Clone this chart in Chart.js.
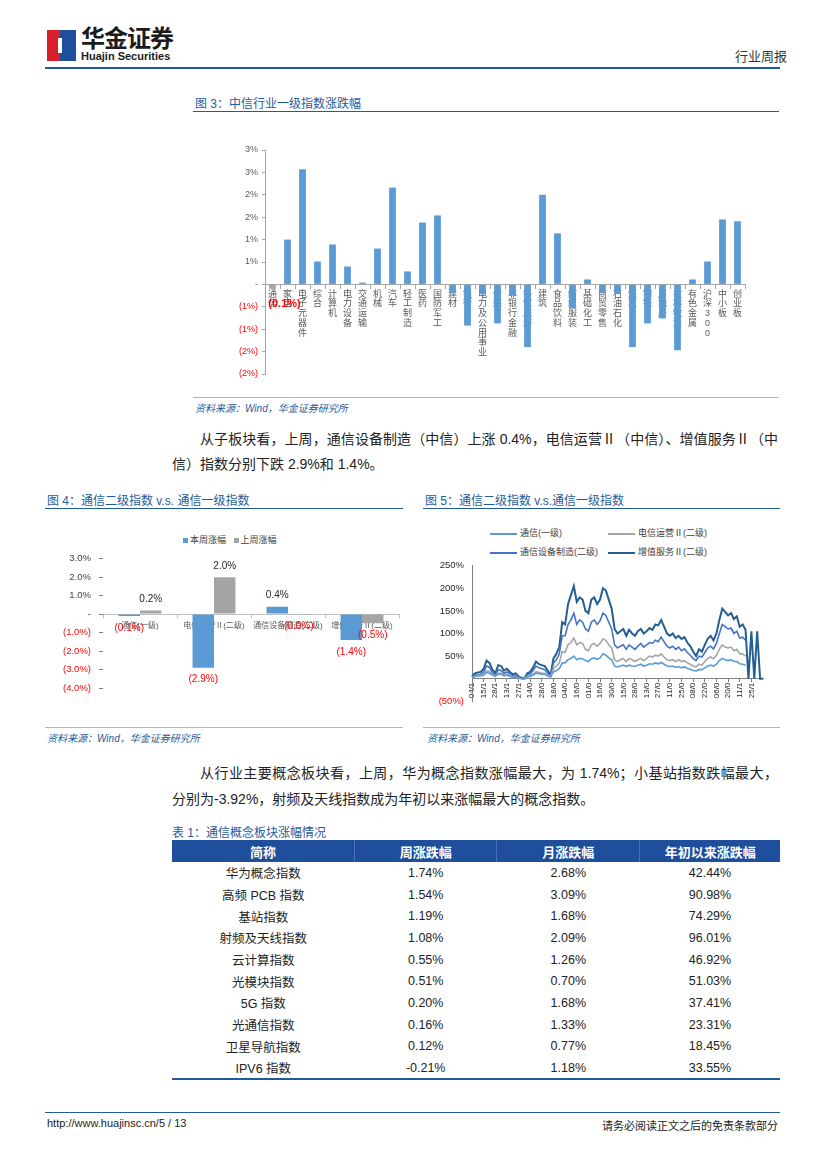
<!DOCTYPE html>
<html>
<head>
<meta charset="utf-8">
<script src="https://cdn.jsdelivr.net/npm/chart.js@4.4.1/dist/chart.umd.min.js"></script>
<style>
  body { margin: 0; background: #fff; }
  #page { position: relative; width: 827px; height: 1169px; overflow: hidden;
    font-family: "Liberation Sans", "Noto Sans CJK SC", sans-serif; color: #222; }
  .abs { position: absolute; white-space: nowrap; }
  .title { font-size: 12px; color: #1f5c99; }
  .source { font-size: 10px; color: #1f5c99; font-style: italic; }
  .hline { position: absolute; height: 0; }
  .para { position: absolute; font-size: 14px; color: #222; white-space: nowrap; }
  .just { text-align: justify; text-align-last: justify; }
  canvas { position: absolute; }
  .legend { position: absolute; font-size: 9px; color: #404040; white-space: nowrap; }
  table { border-collapse: collapse; }
</style>
</head>
<body>
<div id="page">
  <!-- header / logo -->
  <div class="abs" style="left:47px;top:30px;width:13px;height:31px;background:#d7202b;"></div>
  <div class="abs" style="left:60px;top:30px;width:16px;height:31px;background:#1f4e9c;"></div>
  <div class="abs" style="left:58px;top:38px;width:4px;height:15px;background:#fff;"></div>
  <div class="abs" style="left:81px;top:27px;font-size:24px;line-height:24px;font-weight:bold;color:#1b1b1b;letter-spacing:-1px;">华金证券</div>
  <div class="abs" style="left:81px;top:51px;font-size:11px;line-height:11px;font-weight:bold;color:#1b1b1b;">Huajin Securities</div>
  <div class="abs" style="left:735px;top:49px;font-size:13px;line-height:15px;color:#333;">行业周报</div>
  <div class="hline" style="left:45px;top:67px;width:735px;border-top:2px solid #1f5c99;"></div>

  <!-- figure 3 -->
  <div class="abs title" style="left:195px;top:94px;">图 3：中信行业一级指数涨跌幅</div>
  <div class="hline" style="left:193px;top:111px;width:586px;border-top:1.5px solid #1f5c99;"></div>
  <canvas id="fig3" width="580" height="245" style="left:195px;top:140px;"></canvas>
  <div class="hline" style="left:193px;top:397px;width:586px;border-top:1px solid #9dbbe0;"></div>
  <div class="abs source" style="left:195px;top:400px;">资料来源：Wind，华金证券研究所</div>

  <div class="para just" style="left:200px;top:428px;width:578px;">从子板块看，上周，通信设备制造（中信）上涨 0.4%，电信运营Ⅱ（中信）、增值服务Ⅱ（中</div>
  <div class="para" style="left:172px;top:453px;">信）指数分别下跌 2.9%和 1.4%。</div>

  <!-- figure 4 -->
  <div class="abs title" style="left:47px;top:491px;">图 4：通信二级指数 v.s. 通信一级指数</div>
  <div class="hline" style="left:45px;top:508px;width:358px;border-top:1.5px solid #1f5c99;"></div>
  <div class="legend" style="left:183px;top:533px;">
    <span style="display:inline-block;width:5px;height:5px;background:#5b9bd5;margin-right:2px;"></span>本周涨幅
    <span style="display:inline-block;width:5px;height:5px;background:#a5a5a5;margin:0 2px 0 5px;"></span>上周涨幅
  </div>
  <canvas id="fig4" width="356" height="160" style="left:47px;top:545px;"></canvas>
  <div class="hline" style="left:45px;top:727px;width:358px;border-top:1px solid #9dbbe0;"></div>
  <div class="abs source" style="left:47px;top:730px;">资料来源：Wind，华金证券研究所</div>

  <!-- figure 5 -->
  <div class="abs title" style="left:425px;top:491px;">图 5：通信二级指数 v.s.通信一级指数</div>
  <div class="hline" style="left:423px;top:508px;width:357px;border-top:1.5px solid #1f5c99;"></div>
  <div id="fig5legend"></div>
  <canvas id="fig5" width="350" height="163" style="left:425px;top:552px;"></canvas>
  <div class="hline" style="left:423px;top:727px;width:357px;border-top:1px solid #9dbbe0;"></div>
  <div class="abs source" style="left:427px;top:730px;">资料来源：Wind，华金证券研究所</div>

  <div class="para just" style="left:200px;top:762px;width:578px;">从行业主要概念板块看，上周，华为概念指数涨幅最大，为 1.74%；小基站指数跌幅最大，</div>
  <div class="para" style="left:172px;top:788px;">分别为-3.92%，射频及天线指数成为年初以来涨幅最大的概念指数。</div>

  <!-- table 1 -->
  <div class="abs title" style="left:172px;top:823px;">表 1：通信概念板块涨幅情况</div>
  <table id="tbl" class="abs" style="left:172px;top:840px;width:608px;"></table>

  <!-- footer -->
  <div class="hline" style="left:45px;top:1112px;width:735px;border-top:1.5px solid #1f5c99;"></div>
  <div class="abs" style="left:47px;top:1117px;font-size:11px;color:#222;">http://www.huajinsc.cn/5 / 13</div>
  <div class="abs" style="right:49px;top:1117px;font-size:11px;color:#222;">请务必阅读正文之后的免责条款部分</div>
</div>

<script>
// ---- data: figure 3 (CITIC level-1 industries, weekly change %) ----
const fig3Labels = ['通信', '家电', '电子元器件', '综合', '计算机', '电力设备', '交通运输', '机械',
  '汽车', '轻工制造', '医药', '国防军工', '建材', '银行', '电力及公用事业', '传媒', '非银行金融',
  '餐饮旅游', '建筑', '食品饮料', '纺织服装', '基础化工', '商贸零售', '石油石化', '煤炭', '钢铁',
  '房地产', '农林牧渔', '有色金属', '沪深300', '中小板', '创业板'];
const fig3Values = [-0.1, 1.0, 2.57, 0.51, 0.89, 0.40, 0.04, 0.80, 2.16, 0.29, 1.38, 1.54,
  -0.20, -0.92, -0.22, -0.87, -0.25, -1.40, 2.00, 1.14, -0.53, 0.11, -0.18, -0.20,
  -1.40, -0.87, -0.76, -1.47, 0.11, 0.51, 1.45, 1.41];
const fig3Highlight = '通信';

// ---- data: figure 4 ----
const fig4Categories = ['通信(一级)', '电信运营Ⅱ(二级)', '通信设备制造(二级)', '增值服务Ⅱ(二级)'];
const fig4ThisWeek = [-0.1, -2.9, 0.4, -1.4];
const fig4LastWeek = [0.2, 2.0, -0.03, -0.5];

// ---- data: figure 5 (cumulative change %, sampled) ----
const fig5TickLabels = ['04/1', '15/1', '28/1', '13/1', '27/1', '14/0', '28/0', '18/0', '04/0',
  '16/0', '01/0', '16/0', '30/0', '15/0', '28/0', '13/0', '27/0', '11/0', '25/0', '08/0', '22/0',
  '06/0', '20/0', '11/1', '25/1'];
const fig5Tongxin = [2, 5, 6, 6, 8, 14, 12, 8, 5, 10, 10, 6, 8, 5, 3, 4, 2, 0, 0, 4,
  5, 8, 12, 11, 10, 10, 6, 4, 15, 18, 22, 35, 35, 42, 45, 50, 42, 45, 44, 40,
  38, 44, 46, 43, 46, 55, 52, 46, 42, 28, 26, 28, 30, 27, 30, 28, 27, 30, 32, 28,
  30, 33, 32, 35, 33, 36, 32, 28, 27, 28, 25, 27, 24, 26, 23, 21, 18, 17, 20, 20,
  24, 28, 30, 28, 32, 40, 45, 42, 40, 42, 38, 38, 33, 32, 30];
const fig5Dianxin = [3, 6, 8, 8, 10, 18, 16, 10, 6, 12, 12, 8, 10, 7, 4, 5, 2, 0, 0, 5,
  6, 10, 15, 14, 12, 12, 8, 5, 22, 28, 35, 60, 58, 75, 80, 90, 75, 80, 78, 65,
  62, 75, 78, 72, 78, 88, 85, 75, 68, 42, 38, 42, 45, 38, 45, 42, 38, 42, 45, 40,
  45, 50, 48, 52, 50, 55, 48, 42, 40, 42, 38, 42, 38, 40, 35, 32, 28, 26, 32, 30,
  38, 45, 48, 44, 52, 65, 75, 70, 68, 70, 62, 65, 55, 55, 50];
const fig5Shebei = [3, 8, 10, 10, 15, 28, 25, 14, 8, 20, 18, 12, 15, 10, 6, 8, 3, 1, 0, 8,
  10, 18, 28, 24, 22, 20, 12, 6, 35, 42, 55, 95, 95, 120, 130, 145, 120, 130, 125, 110,
  105, 125, 130, 120, 128, 145, 140, 125, 110, 75, 68, 72, 75, 65, 75, 70, 65, 72, 78, 70,
  75, 80, 78, 85, 82, 92, 82, 72, 68, 72, 65, 70, 62, 66, 58, 52, 45, 40, 50, 48,
  58, 68, 72, 66, 78, 100, 120, 115, 110, 112, 100, 105, 90, 92, 85];
const fig5Zengzhi = [5, 12, 14, 15, 22, 40, 35, 20, 12, 30, 28, 18, 22, 15, 10, 12, 5, 2, 0, 12,
  15, 25, 38, 32, 30, 28, 18, 8, 45, 55, 70, 125, 120, 165, 185, 205, 170, 180, 175, 150,
  145, 175, 180, 165, 175, 200, 195, 175, 155, 110, 100, 105, 110, 95, 108, 100, 95, 105, 110, 100,
  105, 112, 108, 120, 118, 130, 115, 100, 95, 100, 90, 95, 88, 92, 80, 72, 60, 50, 65, 60,
  75, 88, 95, 85, 100, 130, 155, 148, 140, 145, 132, 138, 115, 120, 108, 0, 105, 0, 105, 0, 0];
const fig5Names = ['通信(一级)', '电信运营Ⅱ(二级)', '通信设备制造(二级)', '增值服务Ⅱ(二级)'];
const fig5Colors = ['#5b9bd5', '#a5a5a5', '#4472c4', '#255e91'];

// ---- data: table 1 ----
const tblHead = ['简称', '周涨跌幅', '月涨跌幅', '年初以来涨跌幅'];
const tblNames = ['华为概念指数', '高频 PCB 指数', '基站指数', '射频及天线指数', '云计算指数',
  '光模块指数', '5G 指数', '光通信指数', '卫星导航指数', 'IPV6 指数'];
const tblWeek = ['1.74%', '1.54%', '1.19%', '1.08%', '0.55%', '0.51%', '0.20%', '0.16%', '0.12%', '-0.21%'];
const tblMonth = ['2.68%', '3.09%', '1.68%', '2.09%', '1.26%', '0.70%', '1.68%', '1.33%', '0.77%', '1.18%'];
const tblYtd = ['42.44%', '90.98%', '74.29%', '96.01%', '46.92%', '51.03%', '37.41%', '23.31%', '18.45%', '33.55%'];

const RED = '#ff0000';
const TXT = '#595959';
Chart.defaults.font.family = '"Liberation Sans", "Noto Sans CJK SC", sans-serif';
Chart.defaults.animation = false;
Chart.defaults.responsive = false;
Chart.defaults.devicePixelRatio = 1;
Chart.defaults.plugins.legend.display = false;
Chart.defaults.plugins.tooltip.enabled = false;

// accounting style percent, like the excel charts
function pctLabel(v, digits) {
  if (v === 0) return '-';
  const s = Math.abs(v).toFixed(digits) + '%';
  return v < 0 ? '(' + s + ')' : s;
}

// ---------- figure 3 ----------
new Chart(document.getElementById('fig3'), {
  type: 'bar',
  data: {
    // stack the characters vertically like the original
    labels: fig3Labels.map((l) => l.split('')),
    datasets: [{
      data: fig3Values,
      backgroundColor: fig3Labels.map((l) => (l === fig3Highlight ? '#a5a5a5' : '#5b9bd5')),
      barPercentage: 0.9,
      categoryPercentage: 0.5,
    }],
  },
  options: {
    layout: { padding: { top: 10, right: 30, bottom: 11, left: 0 } },
    scales: {
      x: {
        position: { y: 0 },
        z: 1,
        grid: { drawOnChartArea: false, tickLength: 4, color: '#a6a6a6' },
        border: { color: '#a6a6a6' },
        ticks: { autoSkip: false, maxRotation: 0, padding: 1, color: TXT,
          font: { size: 9, lineHeight: 1.08 } },
      },
      y: {
        min: -2, max: 3,
        afterFit: (s) => { s.width = 70; },
        grid: { drawOnChartArea: false, tickLength: 3, color: '#a6a6a6' },
        border: { color: '#a6a6a6' },
        ticks: {
          stepSize: 0.5, padding: 4, font: { size: 9 },
          color: (c) => (c.tick && c.tick.value < 0 ? RED : TXT),
          callback: (v) => pctLabel(Math.round(Math.abs(v) + 1e-9) * Math.sign(v), 0),
        },
      },
    },
  },
  plugins: [{
    id: 'fig3labels',
    afterDatasetsDraw(chart) {
      const ctx = chart.ctx;
      const meta = chart.getDatasetMeta(0);
      const i = fig3Labels.indexOf(fig3Highlight);
      const el = meta.data[i];
      ctx.save();
      ctx.font = 'bold 11px "Liberation Sans"';
      ctx.fillStyle = RED;
      ctx.textAlign = 'center';
      ctx.textBaseline = 'middle';
      ctx.fillText(pctLabel(fig3Values[i], 1), el.x + 12, el.y + 15);
      ctx.restore();
    },
  }],
});

// ---------- figure 4 ----------
new Chart(document.getElementById('fig4'), {
  type: 'bar',
  data: {
    labels: fig4Categories,
    datasets: [
      { label: '本周涨幅', data: fig4ThisWeek, backgroundColor: '#5b9bd5', categoryPercentage: 0.58, barPercentage: 1 },
      { label: '上周涨幅', data: fig4LastWeek, backgroundColor: '#a5a5a5', categoryPercentage: 0.58, barPercentage: 1 },
    ],
  },
  options: {
    layout: { padding: { top: 10, right: 4, bottom: 17, left: 0 } },
    scales: {
      x: {
        position: { y: 0 },
        z: 1,
        grid: { drawOnChartArea: false, tickLength: 3, color: '#bfbfbf' },
        border: { color: '#bfbfbf' },
        ticks: { autoSkip: false, maxRotation: 0, padding: 4, color: TXT, font: { size: 8 } },
      },
      y: {
        min: -4, max: 3,
        afterFit: (s) => { s.width = 56; },
        grid: { drawOnChartArea: false, tickLength: 4, color: '#7f7f7f' },
        border: { display: false },
        ticks: {
          stepSize: 1, padding: 8, font: { size: 9.5 },
          color: (c) => (c.tick && c.tick.value < 0 ? RED : '#404040'),
          callback: (v) => pctLabel(v, 1),
        },
      },
    },
  },
  plugins: [{
    id: 'fig4labels',
    afterDatasetsDraw(chart) {
      const ctx = chart.ctx;
      ctx.save();
      ctx.font = '10px "Liberation Sans"';
      ctx.textAlign = 'center';
      ctx.textBaseline = 'middle';
      chart.data.datasets.forEach((ds, d) => {
        chart.getDatasetMeta(d).data.forEach((el, i) => {
          const v = ds.data[i];
          ctx.fillStyle = v < 0 ? RED : '#262626';
          ctx.fillText(pctLabel(v, 1), el.x, v < 0 ? el.y + 12 : el.y - 11);
        });
      });
      ctx.restore();
    },
  }],
});

// ---------- figure 5 ----------
const fig5Labels = fig5Zengzhi.map((_, i) => (i % 4 === 0 ? (fig5TickLabels[i / 4] || '') : ''));
const fig5Series = [fig5Tongxin, fig5Dianxin, fig5Shebei, fig5Zengzhi];

new Chart(document.getElementById('fig5'), {
  type: 'line',
  data: {
    labels: fig5Labels,
    datasets: fig5Series.map((s, k) => ({
      label: fig5Names[k],
      data: s,
      borderColor: fig5Colors[k],
      borderWidth: k === 3 ? 2 : 1.6,
      pointRadius: 0,
      tension: 0,
    })),
  },
  options: {
    layout: { padding: { top: 10, right: 12, bottom: 9, left: 0 } },
    scales: {
      x: {
        position: { y: 0 },
        grid: {
          drawOnChartArea: false, tickLength: 3,
          color: (c) => (c.tick && c.tick.label ? '#808080' : 'transparent'),
        },
        border: { color: '#808080' },
        ticks: { autoSkip: false, minRotation: 90, maxRotation: 90, padding: 1, color: '#262626', font: { size: 8 } },
      },
      y: {
        min: -50, max: 250,
        afterFit: (s) => { s.width = 47; },
        grid: { drawOnChartArea: false, drawTicks: false },
        border: { color: '#808080' },
        ticks: {
          stepSize: 50, padding: 8, font: { size: 9.5 },
          color: (c) => (c.tick && c.tick.value < 0 ? RED : '#262626'),
          callback: (v) => (v === 0 ? '' : pctLabel(v, 0)),
        },
      },
    },
  },
});

// legend for figure 5 (2 x 2 grid, like the original)
const legendBox = document.getElementById('fig5legend');
fig5Names.forEach((name, k) => {
  const col = k % 2, row = Math.floor(k / 2);
  const item = document.createElement('div');
  item.className = 'legend';
  item.style.left = (490 + col * 118) + 'px';
  item.style.top = (526 + row * 19) + 'px';
  item.innerHTML = '<span style="display:inline-block;width:27px;height:0;border-top:2px solid ' +
    fig5Colors[k] + ';vertical-align:middle;margin-right:3px;"></span>' + name;
  legendBox.appendChild(item);
});

// ---------- table 1 ----------
const tbl = document.getElementById('tbl');
const widths = [183, 142, 143, 140];
let html = '<tr style="background:#1f4e9c;color:#fff;font-weight:bold;font-size:13px;height:22px;">';
tblHead.forEach((h, i) => {
  html += '<td style="width:' + widths[i] + 'px;text-align:center;padding:0;' +
    (i ? 'border-left:1px solid #4a70b5;' : '') + '">' + h + '</td>';
});
html += '</tr>';
tblNames.forEach((n, r) => {
  html += '<tr style="height:21.7px;font-size:12.5px;color:#222;">';
  [n, tblWeek[r], tblMonth[r], tblYtd[r]].forEach((c) => {
    html += '<td style="text-align:center;padding:0;">' + c + '</td>';
  });
  html += '</tr>';
});
tbl.innerHTML = html;
tbl.style.borderBottom = '2px solid #1f5c99';
</script>
</body>
</html>
